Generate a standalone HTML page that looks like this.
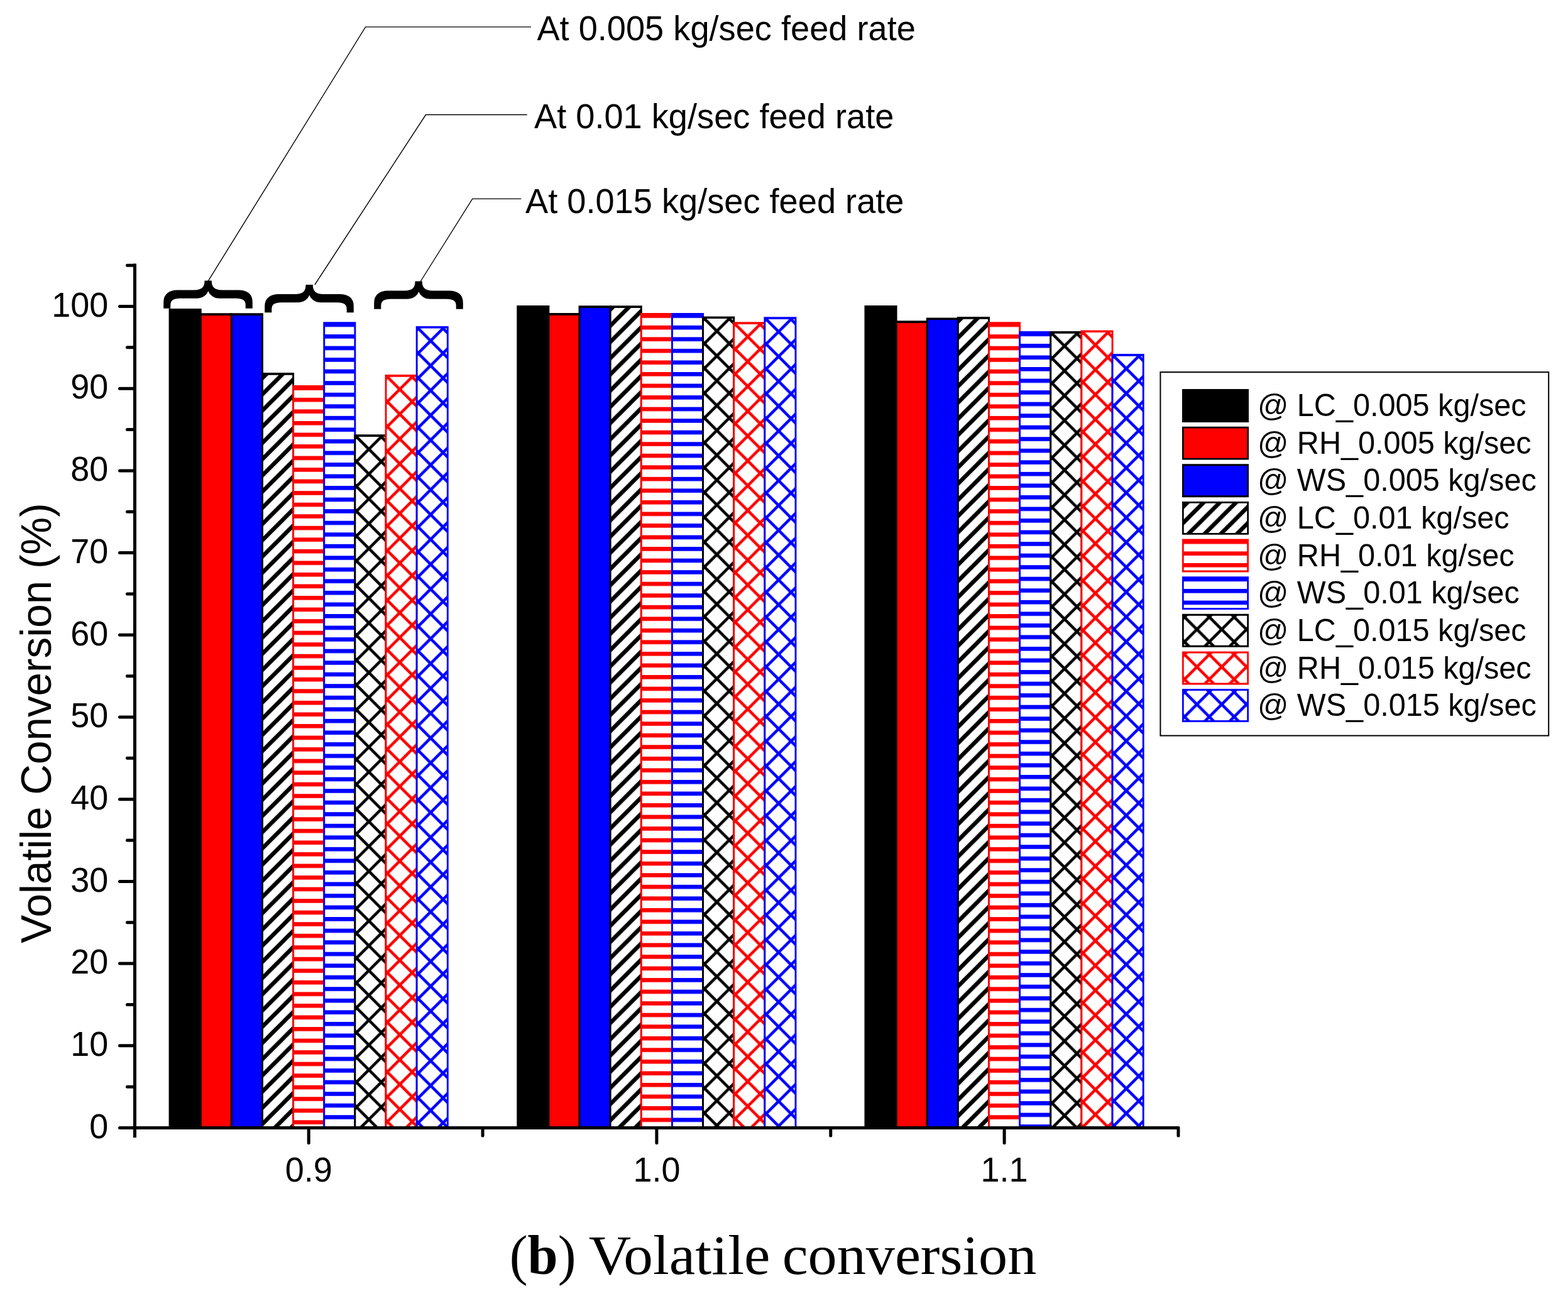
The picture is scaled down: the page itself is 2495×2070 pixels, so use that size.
<!DOCTYPE html>
<html><head><meta charset="utf-8"><title>Volatile conversion</title>
<style>html,body{margin:0;padding:0;background:#fff;}body{width:2495px;height:2070px;overflow:hidden;}svg{display:block;}</style>
</head><body>
<svg width="2495" height="2070" viewBox="0 0 2495 2070"><defs><pattern id="p1" patternUnits="userSpaceOnUse" x="426.02" y="593" width="25.8" height="25.8"><path d="M-6.5,32.3L32.3,-6.5M-6.5,6.5L6.5,-6.5M19.3,32.3L32.3,19.3" stroke="#000000" stroke-width="6.5" fill="none"/></pattern><pattern id="p2" patternUnits="userSpaceOnUse" x="0" y="614.3" width="200" height="18.54"><rect x="0" y="0" width="200" height="6.6" fill="#ff0000"/></pattern><pattern id="p3" patternUnits="userSpaceOnUse" x="0" y="513.5" width="200" height="18.54"><rect x="0" y="0" width="200" height="6.6" fill="#0000ff"/></pattern><pattern id="p4" patternUnits="userSpaceOnUse" x="586.94" y="714.7" width="39.5" height="39.5"><path d="M-4.6,-4.6L44.1,44.1M-4.6,44.1L44.1,-4.6M-4.6,4.6L4.6,-4.6M34.9,44.1L44.1,34.9M34.9,-4.6L44.1,4.6M-4.6,34.9L4.6,44.1" stroke="#000000" stroke-width="4.6" fill="none"/></pattern><pattern id="p5" patternUnits="userSpaceOnUse" x="636.08" y="619.4" width="39.5" height="39.5"><path d="M-4.6,-4.6L44.1,44.1M-4.6,44.1L44.1,-4.6M-4.6,4.6L4.6,-4.6M34.9,44.1L44.1,34.9M34.9,-4.6L44.1,4.6M-4.6,34.9L4.6,44.1" stroke="#ff0000" stroke-width="4.6" fill="none"/></pattern><pattern id="p6" patternUnits="userSpaceOnUse" x="685.22" y="542.3" width="39.5" height="39.5"><path d="M-4.6,-4.6L44.1,44.1M-4.6,44.1L44.1,-4.6M-4.6,4.6L4.6,-4.6M34.9,44.1L44.1,34.9M34.9,-4.6L44.1,4.6M-4.6,34.9L4.6,44.1" stroke="#0000ff" stroke-width="4.6" fill="none"/></pattern><pattern id="p7" patternUnits="userSpaceOnUse" x="977.42" y="486.2" width="25.8" height="25.8"><path d="M-6.5,32.3L32.3,-6.5M-6.5,6.5L6.5,-6.5M19.3,32.3L32.3,19.3" stroke="#000000" stroke-width="6.5" fill="none"/></pattern><pattern id="p8" patternUnits="userSpaceOnUse" x="0" y="499.3" width="200" height="18.54"><rect x="0" y="0" width="200" height="6.6" fill="#ff0000"/></pattern><pattern id="p9" patternUnits="userSpaceOnUse" x="0" y="499.3" width="200" height="18.54"><rect x="0" y="0" width="200" height="6.6" fill="#0000ff"/></pattern><pattern id="p10" patternUnits="userSpaceOnUse" x="1140.64" y="526.8" width="39.5" height="39.5"><path d="M-4.6,-4.6L44.1,44.1M-4.6,44.1L44.1,-4.6M-4.6,4.6L4.6,-4.6M34.9,44.1L44.1,34.9M34.9,-4.6L44.1,4.6M-4.6,34.9L4.6,44.1" stroke="#000000" stroke-width="4.6" fill="none"/></pattern><pattern id="p11" patternUnits="userSpaceOnUse" x="1189.78" y="535.7" width="39.5" height="39.5"><path d="M-4.6,-4.6L44.1,44.1M-4.6,44.1L44.1,-4.6M-4.6,4.6L4.6,-4.6M34.9,44.1L44.1,34.9M34.9,-4.6L44.1,4.6M-4.6,34.9L4.6,44.1" stroke="#ff0000" stroke-width="4.6" fill="none"/></pattern><pattern id="p12" patternUnits="userSpaceOnUse" x="1238.92" y="527.7" width="39.5" height="39.5"><path d="M-4.6,-4.6L44.1,44.1M-4.6,44.1L44.1,-4.6M-4.6,4.6L4.6,-4.6M34.9,44.1L44.1,34.9M34.9,-4.6L44.1,4.6M-4.6,34.9L4.6,44.1" stroke="#0000ff" stroke-width="4.6" fill="none"/></pattern><pattern id="p13" patternUnits="userSpaceOnUse" x="1531.92" y="504" width="25.8" height="25.8"><path d="M-6.5,32.3L32.3,-6.5M-6.5,6.5L6.5,-6.5M19.3,32.3L32.3,19.3" stroke="#000000" stroke-width="6.5" fill="none"/></pattern><pattern id="p14" patternUnits="userSpaceOnUse" x="0" y="513.6" width="200" height="18.54"><rect x="0" y="0" width="200" height="6.6" fill="#ff0000"/></pattern><pattern id="p15" patternUnits="userSpaceOnUse" x="0" y="528.4" width="200" height="18.54"><rect x="0" y="0" width="200" height="6.6" fill="#0000ff"/></pattern><pattern id="p16" patternUnits="userSpaceOnUse" x="1693.84" y="550.5" width="39.5" height="39.5"><path d="M-4.6,-4.6L44.1,44.1M-4.6,44.1L44.1,-4.6M-4.6,4.6L4.6,-4.6M34.9,44.1L44.1,34.9M34.9,-4.6L44.1,4.6M-4.6,34.9L4.6,44.1" stroke="#000000" stroke-width="4.6" fill="none"/></pattern><pattern id="p17" patternUnits="userSpaceOnUse" x="1742.98" y="548.8" width="39.5" height="39.5"><path d="M-4.6,-4.6L44.1,44.1M-4.6,44.1L44.1,-4.6M-4.6,4.6L4.6,-4.6M34.9,44.1L44.1,34.9M34.9,-4.6L44.1,4.6M-4.6,34.9L4.6,44.1" stroke="#ff0000" stroke-width="4.6" fill="none"/></pattern><pattern id="p18" patternUnits="userSpaceOnUse" x="1792.12" y="586.5" width="39.5" height="39.5"><path d="M-4.6,-4.6L44.1,44.1M-4.6,44.1L44.1,-4.6M-4.6,4.6L4.6,-4.6M34.9,44.1L44.1,34.9M34.9,-4.6L44.1,4.6M-4.6,34.9L4.6,44.1" stroke="#0000ff" stroke-width="4.6" fill="none"/></pattern><pattern id="p19" patternUnits="userSpaceOnUse" x="1890.9" y="797.92" width="25.8" height="25.8"><path d="M-6.5,32.3L32.3,-6.5M-6.5,6.5L6.5,-6.5M19.3,32.3L32.3,19.3" stroke="#000000" stroke-width="6.5" fill="none"/></pattern><pattern id="p20" patternUnits="userSpaceOnUse" x="0" y="858.86" width="200" height="18.54"><rect x="0" y="0" width="200" height="6.6" fill="#ff0000"/></pattern><pattern id="p21" patternUnits="userSpaceOnUse" x="0" y="918.5" width="200" height="18.54"><rect x="0" y="0" width="200" height="6.6" fill="#0000ff"/></pattern><pattern id="p22" patternUnits="userSpaceOnUse" x="1904.5" y="1001.44" width="39.5" height="39.5"><path d="M-4.6,-4.6L44.1,44.1M-4.6,44.1L44.1,-4.6M-4.6,4.6L4.6,-4.6M34.9,44.1L44.1,34.9M34.9,-4.6L44.1,4.6M-4.6,34.9L4.6,44.1" stroke="#000000" stroke-width="4.6" fill="none"/></pattern><pattern id="p23" patternUnits="userSpaceOnUse" x="1904.5" y="1061.08" width="39.5" height="39.5"><path d="M-4.6,-4.6L44.1,44.1M-4.6,44.1L44.1,-4.6M-4.6,4.6L4.6,-4.6M34.9,44.1L44.1,34.9M34.9,-4.6L44.1,4.6M-4.6,34.9L4.6,44.1" stroke="#ff0000" stroke-width="4.6" fill="none"/></pattern><pattern id="p24" patternUnits="userSpaceOnUse" x="1904.5" y="1120.72" width="39.5" height="39.5"><path d="M-4.6,-4.6L44.1,44.1M-4.6,44.1L44.1,-4.6M-4.6,4.6L4.6,-4.6M34.9,44.1L44.1,34.9M34.9,-4.6L44.1,4.6M-4.6,34.9L4.6,44.1" stroke="#0000ff" stroke-width="4.6" fill="none"/></pattern></defs><rect width="2495" height="2070" fill="#fff"/><rect x="270.05" y="492.95" width="49.14" height="1301.55" fill="#000000"/><path d="M268.6,491.1h52.04v3.7h-52.04zM268.6,492.95h2.9V1794.5h-2.9zM317.74,492.95h2.9V1794.5h-2.9z" fill="#000"/><rect x="319.19" y="500.15" width="49.14" height="1294.35" fill="#ff0000"/><path d="M317.74,498.3h52.04v3.7h-52.04zM317.74,500.15h2.9V1794.5h-2.9zM366.88,500.15h2.9V1794.5h-2.9z" fill="#000"/><rect x="368.33" y="500.15" width="49.14" height="1294.35" fill="#0000ff"/><path d="M366.88,498.3h52.04v3.7h-52.04zM366.88,500.15h2.9V1794.5h-2.9zM416.02,500.15h2.9V1794.5h-2.9z" fill="#000"/><rect x="417.47" y="594.85" width="49.14" height="1199.65" fill="#fff"/><rect x="417.47" y="594.85" width="49.14" height="1199.65" fill="url(#p1)"/><path d="M416.02,593h52.04v3.7h-52.04zM416.02,594.85h2.9V1794.5h-2.9zM465.16,594.85h2.9V1794.5h-2.9z" fill="#000000"/><rect x="466.61" y="614.85" width="49.14" height="1179.65" fill="#fff"/><rect x="466.61" y="614.85" width="49.14" height="1179.65" fill="url(#p2)"/><path d="M465.16,613h52.04v3.7h-52.04zM465.16,614.85h2.9V1794.5h-2.9zM514.3,614.85h2.9V1794.5h-2.9z" fill="#ff0000"/><rect x="515.75" y="514.05" width="49.14" height="1280.45" fill="#fff"/><rect x="515.75" y="514.05" width="49.14" height="1280.45" fill="url(#p3)"/><path d="M514.3,512.2h52.04v3.7h-52.04zM514.3,514.05h2.9V1794.5h-2.9zM563.44,514.05h2.9V1794.5h-2.9z" fill="#0000ff"/><rect x="564.89" y="693.15" width="49.14" height="1101.35" fill="#fff"/><rect x="564.89" y="693.15" width="49.14" height="1101.35" fill="url(#p4)"/><path d="M563.44,691.3h52.04v3.7h-52.04zM563.44,693.15h2.9V1794.5h-2.9zM612.58,693.15h2.9V1794.5h-2.9z" fill="#000000"/><rect x="614.03" y="597.85" width="49.14" height="1196.65" fill="#fff"/><rect x="614.03" y="597.85" width="49.14" height="1196.65" fill="url(#p5)"/><path d="M612.58,596h52.04v3.7h-52.04zM612.58,597.85h2.9V1794.5h-2.9zM661.72,597.85h2.9V1794.5h-2.9z" fill="#ff0000"/><rect x="663.17" y="520.75" width="49.14" height="1273.75" fill="#fff"/><rect x="663.17" y="520.75" width="49.14" height="1273.75" fill="url(#p6)"/><path d="M661.72,518.9h52.04v3.7h-52.04zM661.72,520.75h2.9V1794.5h-2.9zM710.86,520.75h2.9V1794.5h-2.9z" fill="#0000ff"/><rect x="823.75" y="487.85" width="49.14" height="1306.65" fill="#000000"/><path d="M822.3,486h52.04v3.7h-52.04zM822.3,487.85h2.9V1794.5h-2.9zM871.44,487.85h2.9V1794.5h-2.9z" fill="#000"/><rect x="872.89" y="499.85" width="49.14" height="1294.65" fill="#ff0000"/><path d="M871.44,498h52.04v3.7h-52.04zM871.44,499.85h2.9V1794.5h-2.9zM920.58,499.85h2.9V1794.5h-2.9z" fill="#000"/><rect x="922.03" y="488.05" width="49.14" height="1306.45" fill="#0000ff"/><path d="M920.58,486.2h52.04v3.7h-52.04zM920.58,488.05h2.9V1794.5h-2.9zM969.72,488.05h2.9V1794.5h-2.9z" fill="#000"/><rect x="971.17" y="488.05" width="49.14" height="1306.45" fill="#fff"/><rect x="971.17" y="488.05" width="49.14" height="1306.45" fill="url(#p7)"/><path d="M969.72,486.2h52.04v3.7h-52.04zM969.72,488.05h2.9V1794.5h-2.9zM1018.86,488.05h2.9V1794.5h-2.9z" fill="#000000"/><rect x="1020.31" y="499.85" width="49.14" height="1294.65" fill="#fff"/><rect x="1020.31" y="499.85" width="49.14" height="1294.65" fill="url(#p8)"/><path d="M1018.86,498h52.04v3.7h-52.04zM1018.86,499.85h2.9V1794.5h-2.9zM1068,499.85h2.9V1794.5h-2.9z" fill="#ff0000"/><rect x="1069.45" y="499.85" width="49.14" height="1294.65" fill="#fff"/><rect x="1069.45" y="499.85" width="49.14" height="1294.65" fill="url(#p9)"/><path d="M1068,498h52.04v3.7h-52.04zM1068,499.85h2.9V1794.5h-2.9zM1117.14,499.85h2.9V1794.5h-2.9z" fill="#0000ff"/><rect x="1118.59" y="505.25" width="49.14" height="1289.25" fill="#fff"/><rect x="1118.59" y="505.25" width="49.14" height="1289.25" fill="url(#p10)"/><path d="M1117.14,503.4h52.04v3.7h-52.04zM1117.14,505.25h2.9V1794.5h-2.9zM1166.28,505.25h2.9V1794.5h-2.9z" fill="#000000"/><rect x="1167.73" y="514.15" width="49.14" height="1280.35" fill="#fff"/><rect x="1167.73" y="514.15" width="49.14" height="1280.35" fill="url(#p11)"/><path d="M1166.28,512.3h52.04v3.7h-52.04zM1166.28,514.15h2.9V1794.5h-2.9zM1215.42,514.15h2.9V1794.5h-2.9z" fill="#ff0000"/><rect x="1216.87" y="506.15" width="49.14" height="1288.35" fill="#fff"/><rect x="1216.87" y="506.15" width="49.14" height="1288.35" fill="url(#p12)"/><path d="M1215.42,504.3h52.04v3.7h-52.04zM1215.42,506.15h2.9V1794.5h-2.9zM1264.56,506.15h2.9V1794.5h-2.9z" fill="#0000ff"/><rect x="1376.95" y="487.85" width="49.14" height="1306.65" fill="#000000"/><path d="M1375.5,486h52.04v3.7h-52.04zM1375.5,487.85h2.9V1794.5h-2.9zM1424.64,487.85h2.9V1794.5h-2.9z" fill="#000"/><rect x="1426.09" y="512.05" width="49.14" height="1282.45" fill="#ff0000"/><path d="M1424.64,510.2h52.04v3.7h-52.04zM1424.64,512.05h2.9V1794.5h-2.9zM1473.78,512.05h2.9V1794.5h-2.9z" fill="#000"/><rect x="1475.23" y="507.25" width="49.14" height="1287.25" fill="#0000ff"/><path d="M1473.78,505.4h52.04v3.7h-52.04zM1473.78,507.25h2.9V1794.5h-2.9zM1522.92,507.25h2.9V1794.5h-2.9z" fill="#000"/><rect x="1524.37" y="505.85" width="49.14" height="1288.65" fill="#fff"/><rect x="1524.37" y="505.85" width="49.14" height="1288.65" fill="url(#p13)"/><path d="M1522.92,504h52.04v3.7h-52.04zM1522.92,505.85h2.9V1794.5h-2.9zM1572.06,505.85h2.9V1794.5h-2.9z" fill="#000000"/><rect x="1573.51" y="514.15" width="49.14" height="1280.35" fill="#fff"/><rect x="1573.51" y="514.15" width="49.14" height="1280.35" fill="url(#p14)"/><path d="M1572.06,512.3h52.04v3.7h-52.04zM1572.06,514.15h2.9V1794.5h-2.9zM1621.2,514.15h2.9V1794.5h-2.9z" fill="#ff0000"/><rect x="1622.65" y="528.95" width="49.14" height="1265.55" fill="#fff"/><rect x="1622.65" y="528.95" width="49.14" height="1265.55" fill="url(#p15)"/><path d="M1621.2,527.1h52.04v3.7h-52.04zM1621.2,528.95h2.9V1794.5h-2.9zM1670.34,528.95h2.9V1794.5h-2.9z" fill="#0000ff"/><rect x="1671.79" y="528.95" width="49.14" height="1265.55" fill="#fff"/><rect x="1671.79" y="528.95" width="49.14" height="1265.55" fill="url(#p16)"/><path d="M1670.34,527.1h52.04v3.7h-52.04zM1670.34,528.95h2.9V1794.5h-2.9zM1719.48,528.95h2.9V1794.5h-2.9z" fill="#000000"/><rect x="1720.93" y="527.25" width="49.14" height="1267.25" fill="#fff"/><rect x="1720.93" y="527.25" width="49.14" height="1267.25" fill="url(#p17)"/><path d="M1719.48,525.4h52.04v3.7h-52.04zM1719.48,527.25h2.9V1794.5h-2.9zM1768.62,527.25h2.9V1794.5h-2.9z" fill="#ff0000"/><rect x="1770.07" y="564.95" width="49.14" height="1229.55" fill="#fff"/><rect x="1770.07" y="564.95" width="49.14" height="1229.55" fill="url(#p18)"/><path d="M1768.62,563.1h52.04v3.7h-52.04zM1768.62,564.95h2.9V1794.5h-2.9zM1817.76,564.95h2.9V1794.5h-2.9z" fill="#0000ff"/><line x1="214.5" y1="419.5" x2="214.5" y2="1810" stroke="#000" stroke-width="5"/><line x1="212" y1="1794.5" x2="1876.8" y2="1794.5" stroke="#000" stroke-width="5"/><line x1="190.5" y1="1794.5" x2="214.5" y2="1794.5" stroke="#000" stroke-width="5" stroke-linecap="round"/><line x1="202.5" y1="1729.15" x2="214.5" y2="1729.15" stroke="#000" stroke-width="5" stroke-linecap="round"/><line x1="190.5" y1="1663.8" x2="214.5" y2="1663.8" stroke="#000" stroke-width="5" stroke-linecap="round"/><line x1="202.5" y1="1598.45" x2="214.5" y2="1598.45" stroke="#000" stroke-width="5" stroke-linecap="round"/><line x1="190.5" y1="1533.1" x2="214.5" y2="1533.1" stroke="#000" stroke-width="5" stroke-linecap="round"/><line x1="202.5" y1="1467.75" x2="214.5" y2="1467.75" stroke="#000" stroke-width="5" stroke-linecap="round"/><line x1="190.5" y1="1402.4" x2="214.5" y2="1402.4" stroke="#000" stroke-width="5" stroke-linecap="round"/><line x1="202.5" y1="1337.05" x2="214.5" y2="1337.05" stroke="#000" stroke-width="5" stroke-linecap="round"/><line x1="190.5" y1="1271.7" x2="214.5" y2="1271.7" stroke="#000" stroke-width="5" stroke-linecap="round"/><line x1="202.5" y1="1206.35" x2="214.5" y2="1206.35" stroke="#000" stroke-width="5" stroke-linecap="round"/><line x1="190.5" y1="1141" x2="214.5" y2="1141" stroke="#000" stroke-width="5" stroke-linecap="round"/><line x1="202.5" y1="1075.65" x2="214.5" y2="1075.65" stroke="#000" stroke-width="5" stroke-linecap="round"/><line x1="190.5" y1="1010.3" x2="214.5" y2="1010.3" stroke="#000" stroke-width="5" stroke-linecap="round"/><line x1="202.5" y1="944.95" x2="214.5" y2="944.95" stroke="#000" stroke-width="5" stroke-linecap="round"/><line x1="190.5" y1="879.6" x2="214.5" y2="879.6" stroke="#000" stroke-width="5" stroke-linecap="round"/><line x1="202.5" y1="814.25" x2="214.5" y2="814.25" stroke="#000" stroke-width="5" stroke-linecap="round"/><line x1="190.5" y1="748.9" x2="214.5" y2="748.9" stroke="#000" stroke-width="5" stroke-linecap="round"/><line x1="202.5" y1="683.55" x2="214.5" y2="683.55" stroke="#000" stroke-width="5" stroke-linecap="round"/><line x1="190.5" y1="618.2" x2="214.5" y2="618.2" stroke="#000" stroke-width="5" stroke-linecap="round"/><line x1="202.5" y1="552.85" x2="214.5" y2="552.85" stroke="#000" stroke-width="5" stroke-linecap="round"/><line x1="190.5" y1="487.5" x2="214.5" y2="487.5" stroke="#000" stroke-width="5" stroke-linecap="round"/><line x1="202.5" y1="422.15" x2="214.5" y2="422.15" stroke="#000" stroke-width="5" stroke-linecap="round"/><line x1="491.2" y1="1794.5" x2="491.2" y2="1818.5" stroke="#000" stroke-width="5" stroke-linecap="round"/><line x1="1044.9" y1="1794.5" x2="1044.9" y2="1818.5" stroke="#000" stroke-width="5" stroke-linecap="round"/><line x1="1598.1" y1="1794.5" x2="1598.1" y2="1818.5" stroke="#000" stroke-width="5" stroke-linecap="round"/><line x1="768.05" y1="1794.5" x2="768.05" y2="1807" stroke="#000" stroke-width="5" stroke-linecap="round"/><line x1="1321.75" y1="1794.5" x2="1321.75" y2="1807" stroke="#000" stroke-width="5" stroke-linecap="round"/><line x1="1874.95" y1="1794.5" x2="1874.95" y2="1807" stroke="#000" stroke-width="5" stroke-linecap="round"/><line x1="214.5" y1="1794.5" x2="214.5" y2="1807.5" stroke="#000" stroke-width="5" stroke-linecap="round"/><polyline points="331.1,447.4 581.6,42.9 845,42.9" fill="none" stroke="#000" stroke-width="1.4"/><polyline points="500.9,453 677.5,182.5 838.7,182.5" fill="none" stroke="#000" stroke-width="1.4"/><polyline points="669,448 751.7,316.4 829.3,316.4" fill="none" stroke="#000" stroke-width="1.4"/><text transform="translate(292.1,445) rotate(90) scale(0.95,1)" x="0" y="0" font-size="150" stroke="#000" stroke-width="1.6" font-family="'Liberation Sans', Arial, sans-serif">{</text><text transform="translate(453.3,451.4) rotate(90) scale(0.95,1)" x="0" y="0" font-size="150" stroke="#000" stroke-width="1.6" font-family="'Liberation Sans', Arial, sans-serif">{</text><text transform="translate(627,445.9) rotate(90) scale(0.95,1)" x="0" y="0" font-size="150" stroke="#000" stroke-width="1.6" font-family="'Liberation Sans', Arial, sans-serif">{</text><text transform="translate(172.4,1810.7) scale(1,1.04)" x="0" y="0" font-size="54" text-anchor="end" font-family="'Liberation Sans', Arial, sans-serif">0</text><text transform="translate(172.4,1680) scale(1,1.04)" x="0" y="0" font-size="54" text-anchor="end" font-family="'Liberation Sans', Arial, sans-serif">10</text><text transform="translate(172.4,1549.3) scale(1,1.04)" x="0" y="0" font-size="54" text-anchor="end" font-family="'Liberation Sans', Arial, sans-serif">20</text><text transform="translate(172.4,1418.6) scale(1,1.04)" x="0" y="0" font-size="54" text-anchor="end" font-family="'Liberation Sans', Arial, sans-serif">30</text><text transform="translate(172.4,1287.9) scale(1,1.04)" x="0" y="0" font-size="54" text-anchor="end" font-family="'Liberation Sans', Arial, sans-serif">40</text><text transform="translate(172.4,1157.2) scale(1,1.04)" x="0" y="0" font-size="54" text-anchor="end" font-family="'Liberation Sans', Arial, sans-serif">50</text><text transform="translate(172.4,1026.5) scale(1,1.04)" x="0" y="0" font-size="54" text-anchor="end" font-family="'Liberation Sans', Arial, sans-serif">60</text><text transform="translate(172.4,895.8) scale(1,1.04)" x="0" y="0" font-size="54" text-anchor="end" font-family="'Liberation Sans', Arial, sans-serif">70</text><text transform="translate(172.4,765.1) scale(1,1.04)" x="0" y="0" font-size="54" text-anchor="end" font-family="'Liberation Sans', Arial, sans-serif">80</text><text transform="translate(172.4,634.4) scale(1,1.04)" x="0" y="0" font-size="54" text-anchor="end" font-family="'Liberation Sans', Arial, sans-serif">90</text><text transform="translate(172.4,503.7) scale(1,1.04)" x="0" y="0" font-size="54" text-anchor="end" font-family="'Liberation Sans', Arial, sans-serif">100</text><text transform="translate(491.2,1879.5) scale(1,1.04)" x="0" y="0" font-size="54" text-anchor="middle" font-family="'Liberation Sans', Arial, sans-serif">0.9</text><text transform="translate(1044.9,1879.5) scale(1,1.04)" x="0" y="0" font-size="54" text-anchor="middle" font-family="'Liberation Sans', Arial, sans-serif">1.0</text><text transform="translate(1598.1,1879.5) scale(1,1.04)" x="0" y="0" font-size="54" text-anchor="middle" font-family="'Liberation Sans', Arial, sans-serif">1.1</text><text transform="translate(81,1500.7) rotate(-90) scale(1,1.02)" x="0" y="0" font-size="67.4" font-family="'Liberation Sans', Arial, sans-serif">Volatile Conversion (%)</text><text transform="translate(854.4,64) scale(1,1.04)" x="0" y="0" font-size="54.2" font-family="'Liberation Sans', Arial, sans-serif">At 0.005 kg/sec feed rate</text><text transform="translate(850,203.7) scale(1,1.04)" x="0" y="0" font-size="54.2" font-family="'Liberation Sans', Arial, sans-serif">At 0.01 kg/sec feed rate</text><text transform="translate(836,338.6) scale(1,1.04)" x="0" y="0" font-size="54.2" font-family="'Liberation Sans', Arial, sans-serif">At 0.015 kg/sec feed rate</text><rect x="1846.4" y="592.1" width="617.8" height="578.4" fill="none" stroke="#000" stroke-width="2"/><rect x="1882.35" y="620.45" width="103.3" height="50" fill="#000000"/><path d="M1881,619h106v2.9h-106zM1881,620.45h2.7V670.45h-2.7zM1984.3,620.45h2.7V670.45h-2.7zM1881,669h106v2.9h-106z" fill="#000"/><rect x="1882.35" y="680.09" width="103.3" height="50" fill="#ff0000"/><path d="M1881,678.64h106v2.9h-106zM1881,680.09h2.7V730.09h-2.7zM1984.3,680.09h2.7V730.09h-2.7zM1881,728.64h106v2.9h-106z" fill="#000"/><rect x="1882.35" y="739.73" width="103.3" height="50" fill="#0000ff"/><path d="M1881,738.28h106v2.9h-106zM1881,739.73h2.7V789.73h-2.7zM1984.3,739.73h2.7V789.73h-2.7zM1881,788.28h106v2.9h-106z" fill="#000"/><rect x="1882.35" y="799.37" width="103.3" height="50" fill="#fff"/><rect x="1882.35" y="799.37" width="103.3" height="50" fill="url(#p19)"/><path d="M1881,797.92h106v2.9h-106zM1881,799.37h2.7V849.37h-2.7zM1984.3,799.37h2.7V849.37h-2.7zM1881,847.92h106v2.9h-106z" fill="#000000"/><rect x="1882.35" y="859.01" width="103.3" height="50" fill="#fff"/><rect x="1882.35" y="859.01" width="103.3" height="50" fill="url(#p20)"/><path d="M1881,857.56h106v2.9h-106zM1881,859.01h2.7V909.01h-2.7zM1984.3,859.01h2.7V909.01h-2.7zM1881,907.56h106v2.9h-106z" fill="#ff0000"/><rect x="1882.35" y="918.65" width="103.3" height="50" fill="#fff"/><rect x="1882.35" y="918.65" width="103.3" height="50" fill="url(#p21)"/><path d="M1881,917.2h106v2.9h-106zM1881,918.65h2.7V968.65h-2.7zM1984.3,918.65h2.7V968.65h-2.7zM1881,967.2h106v2.9h-106z" fill="#0000ff"/><rect x="1882.35" y="978.29" width="103.3" height="50" fill="#fff"/><rect x="1882.35" y="978.29" width="103.3" height="50" fill="url(#p22)"/><path d="M1881,976.84h106v2.9h-106zM1881,978.29h2.7V1028.29h-2.7zM1984.3,978.29h2.7V1028.29h-2.7zM1881,1026.84h106v2.9h-106z" fill="#000000"/><rect x="1882.35" y="1037.93" width="103.3" height="50" fill="#fff"/><rect x="1882.35" y="1037.93" width="103.3" height="50" fill="url(#p23)"/><path d="M1881,1036.48h106v2.9h-106zM1881,1037.93h2.7V1087.93h-2.7zM1984.3,1037.93h2.7V1087.93h-2.7zM1881,1086.48h106v2.9h-106z" fill="#ff0000"/><rect x="1882.35" y="1097.57" width="103.3" height="50" fill="#fff"/><rect x="1882.35" y="1097.57" width="103.3" height="50" fill="url(#p24)"/><path d="M1881,1096.12h106v2.9h-106zM1881,1097.57h2.7V1147.57h-2.7zM1984.3,1097.57h2.7V1147.57h-2.7zM1881,1146.12h106v2.9h-106z" fill="#0000ff"/><text transform="translate(2001,662.1) scale(1,1.04)" x="0" y="0" font-size="48.6" font-family="'Liberation Sans', Arial, sans-serif">@ LC_0.005 kg/sec</text><text transform="translate(2001,721.74) scale(1,1.04)" x="0" y="0" font-size="48.6" font-family="'Liberation Sans', Arial, sans-serif">@ RH_0.005 kg/sec</text><text transform="translate(2001,781.38) scale(1,1.04)" x="0" y="0" font-size="48.6" font-family="'Liberation Sans', Arial, sans-serif">@ WS_0.005 kg/sec</text><text transform="translate(2001,841.02) scale(1,1.04)" x="0" y="0" font-size="48.6" font-family="'Liberation Sans', Arial, sans-serif">@ LC_0.01 kg/sec</text><text transform="translate(2001,900.66) scale(1,1.04)" x="0" y="0" font-size="48.6" font-family="'Liberation Sans', Arial, sans-serif">@ RH_0.01 kg/sec</text><text transform="translate(2001,960.3) scale(1,1.04)" x="0" y="0" font-size="48.6" font-family="'Liberation Sans', Arial, sans-serif">@ WS_0.01 kg/sec</text><text transform="translate(2001,1019.94) scale(1,1.04)" x="0" y="0" font-size="48.6" font-family="'Liberation Sans', Arial, sans-serif">@ LC_0.015 kg/sec</text><text transform="translate(2001,1079.58) scale(1,1.04)" x="0" y="0" font-size="48.6" font-family="'Liberation Sans', Arial, sans-serif">@ RH_0.015 kg/sec</text><text transform="translate(2001,1139.22) scale(1,1.04)" x="0" y="0" font-size="48.6" font-family="'Liberation Sans', Arial, sans-serif">@ WS_0.015 kg/sec</text><text transform="translate(810.76,2026.5) scale(0.984,1)" x="0" y="0" font-size="88" font-family="'Liberation Serif', 'Times New Roman', serif">(<tspan font-weight="bold">b</tspan>)</text><text transform="translate(936.84,2026.5) scale(1.061,1)" x="0" y="0" font-size="88" font-family="'Liberation Serif', 'Times New Roman', serif">Volatile</text><text transform="translate(1244.66,2026.5) scale(1.048,1)" x="0" y="0" font-size="88" font-family="'Liberation Serif', 'Times New Roman', serif">conversion</text></svg>
</body></html>
